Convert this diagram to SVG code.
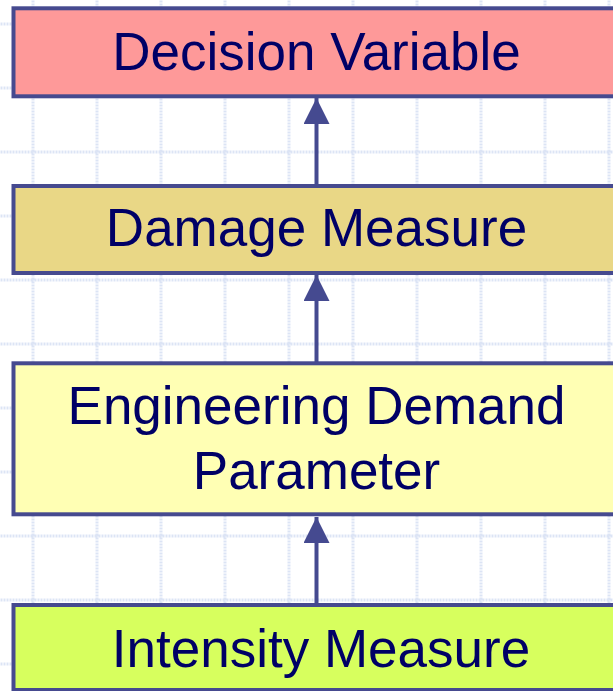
<svg xmlns="http://www.w3.org/2000/svg" width="613" height="691" viewBox="0 0 613 691">
  <defs>
    <pattern id="grid" x="31.5" y="22.5" width="64" height="64" patternUnits="userSpaceOnUse">
      <path d="M1.5 0V64M0 1.5H64" fill="none" stroke="#dce4f5" stroke-width="3" stroke-dasharray="2 1"/>
    </pattern>
    <marker id="head" viewBox="0 0 26 26" refX="26" refY="13" markerWidth="26" markerHeight="26" markerUnits="userSpaceOnUse" orient="auto">
      <path d="M0 0L26 13L0 26Z" fill="#454a90"/>
    </marker>
  </defs>
  <style>
    .box { stroke: #464a8f; stroke-width: 4; }
    .label { font-family: "Liberation Sans", Arial, sans-serif; font-size: 53px; fill: #000066; text-anchor: middle; }
    .link { stroke: #454a90; stroke-width: 4; fill: none; }
  </style>

  <!-- background grid -->
  <rect width="613" height="691" fill="#ffffff"/>
  <rect width="613" height="691" fill="url(#grid)"/>

  <!-- connectors -->
  <g id="connectors">
    <line class="link" x1="316.5" y1="184" x2="316.5" y2="98" marker-end="url(#head)"/>
    <line class="link" x1="316.5" y1="362" x2="316.5" y2="275" marker-end="url(#head)"/>
    <line class="link" x1="316.5" y1="604" x2="316.5" y2="517" marker-end="url(#head)"/>
  </g>

  <g id="decision-variable">
    <rect class="box" x="13.5" y="8.3" width="620" height="88" fill="#fe9999"/>
    <text class="label" x="316.5" y="70">Decision Variable</text>
  </g>

  <g id="damage-measure">
    <rect class="box" x="13.5" y="186" width="620" height="87" fill="#e9d786"/>
    <text class="label" x="316.5" y="246">Damage Measure</text>
  </g>

  <g id="engineering-demand-parameter">
    <rect class="box" x="13.5" y="363.3" width="620" height="151" fill="#ffffb4"/>
    <text class="label" x="316.5" y="424">Engineering Demand</text>
    <text class="label" x="316.5" y="489">Parameter</text>
  </g>

  <g id="intensity-measure">
    <rect class="box" x="13.5" y="605" width="620" height="85" fill="#d7ff5e"/>
    <text class="label" x="321" y="667">Intensity Measure</text>
  </g>
</svg>
